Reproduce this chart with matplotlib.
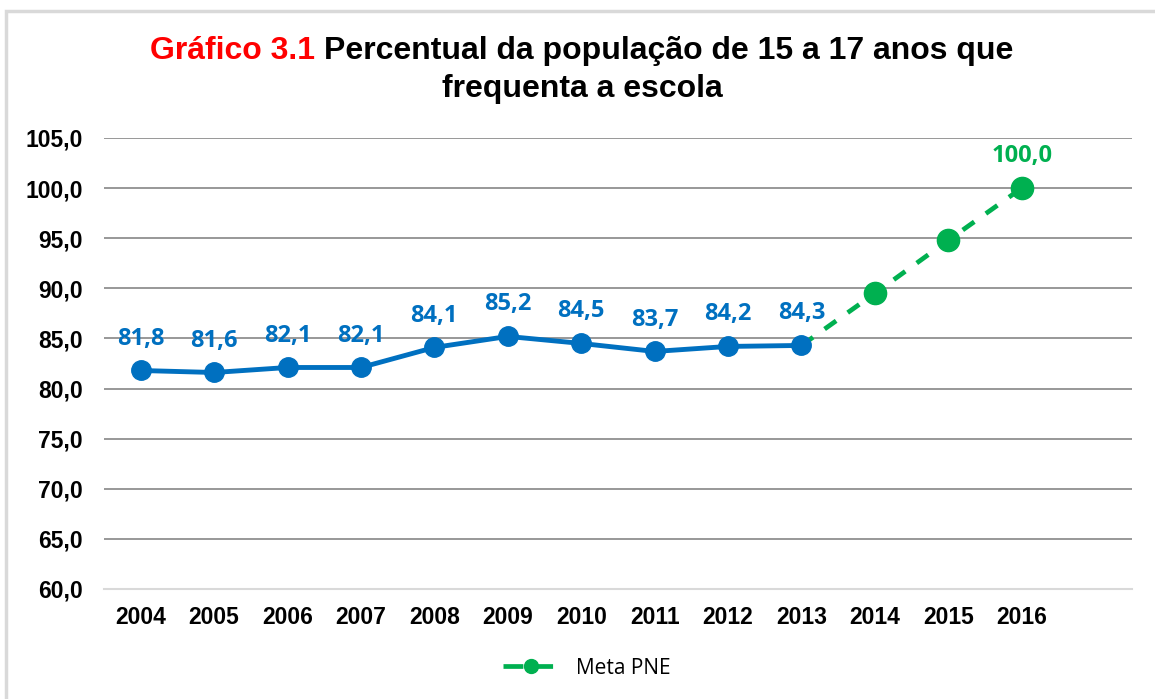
import matplotlib.pyplot as plt
import matplotlib.patches as patches
from matplotlib.lines import Line2D
import numpy as np

years = ["2004", "2005", "2006", "2007", "2008", "2009", "2010",
         "2011", "2012", "2013", "2014", "2015", "2016", ""]
observed = [81.8, 81.6, 82.1, 82.1, 84.1, 85.2, 84.5, 83.7, 84.2, 84.3]
meta_years = ["2013", "2014", "2015", "2016"]
meta = [84.3, 89.5, 94.8, 100.0]

blue = "#0070C0"
green = "#00B050"

fig = plt.figure(figsize=(11.55, 6.99), dpi=100)
ax = fig.add_axes([0.090, 0.1574, 0.890, 0.6452])

x = np.arange(len(years))
x_obs = x[:len(observed)]
x_meta = np.array([years.index(y) for y in meta_years])

ax.plot(x_meta, meta, color=green, lw=3.4, ls=(0, (3, 3)), marker="o",
        markersize=16, markevery=[1, 2, 3], zorder=3)
ax.plot(x_obs, observed, color=blue, lw=3.5, marker="o", markersize=14,
        zorder=4)

lbl = dict(textcoords="offset points", ha="center", va="center",
           fontsize=17, fontweight="bold", family="Open Sans")
for xi, v in zip(x_obs, observed):
    ax.annotate(f"{v:.1f}".replace(".", ","), (xi, v), xytext=(0, 23),
                color=blue, **lbl)
ax.annotate(f"{meta[-1]:.1f}".replace(".", ","), (x_meta[-1], meta[-1]),
            xytext=(0, 23), color=green, **lbl)

ax.set_xlim(-0.5, len(years) - 0.5)
ax.set_ylim(60, 105)
ax.set_xticks(x)
ax.set_xticklabels(years)
yt = np.arange(60, 106, 5)
ax.set_yticks(yt)
ax.set_yticklabels([f"{v:.1f}".replace(".", ",") for v in yt])
for lab in ax.get_xticklabels() + ax.get_yticklabels():
    lab.set_family("Liberation Sans")
    lab.set_fontweight("bold")
    lab.set_fontsize(16.5)
ax.tick_params(axis="y", length=0, pad=15)
ax.tick_params(axis="x", length=0, pad=12)

ax.grid(axis="y", color="#868686", lw=1.2)
ax.set_axisbelow(True)
for s in ["top", "right", "left"]:
    ax.spines[s].set_visible(False)
ax.spines["bottom"].set_color("#d9d9d9")
ax.spines["bottom"].set_linewidth(1.5)
ax.spines["bottom"].set_zorder(2)

# title with a red prefix
fig.canvas.draw()
r = fig.canvas.get_renderer()
tkw = dict(fontsize=23, fontweight="bold", family="Liberation Sans", va="center")
red = fig.text(0, 0, "Gráfico 3.1 ", color="red", **tkw)
blk = fig.text(0, 0, "Percentual da população de 15 a 17 anos que", color="black", **tkw)
w_red = red.get_window_extent(r).width
w_blk = blk.get_window_extent(r).width
x0 = 582 - (w_red + w_blk) / 2
y1 = 1 - 51 / 699
red.set_position((x0 / 1155, y1))
blk.set_position(((x0 + w_red) / 1155, y1))
fig.text(582 / 1155, 1 - 89 / 699, "frequenta a escola", ha="center",
         **tkw)

handle = Line2D([], [], color=green, lw=3.4, ls=(0, (4.2, 2.1)), marker="o",
                markersize=10)
fig.legend([handle], ["Meta PNE"], loc="center", bbox_to_anchor=(0.508, 0.044),
           frameon=False, prop={"family": "Open Sans", "size": 15},
           handlelength=2.7)

fig.patches.append(patches.Rectangle((6 / 1155, -0.05), 1.2, 0.05 + 1 - 11 / 699,
                                     transform=fig.transFigure, fill=False,
                                     edgecolor="#d9d9d9", lw=2.5))

plt.savefig("out.png", dpi=100)
